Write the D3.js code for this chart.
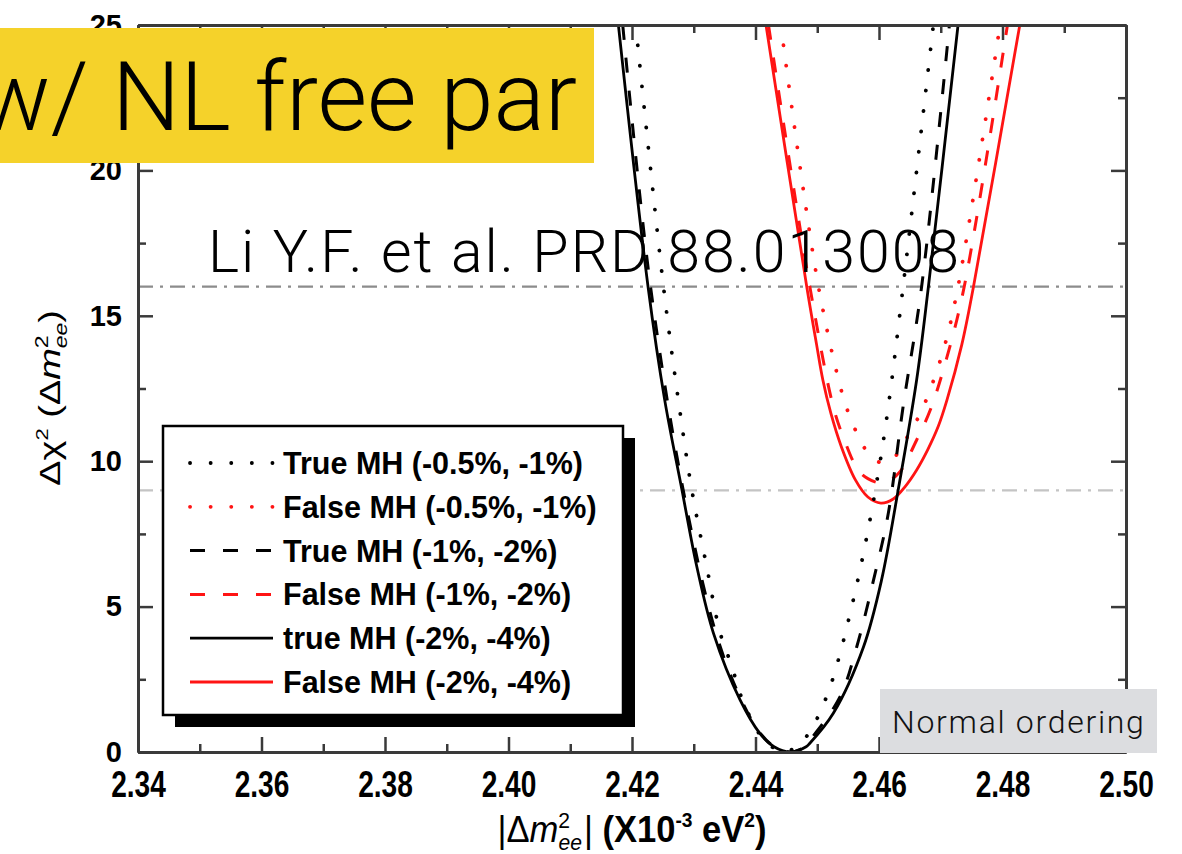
<!DOCTYPE html>
<html>
<head>
<meta charset="utf-8">
<script src="https://cdn.jsdelivr.net/npm/d3@7"></script>
<style>
  body { margin: 0; background: #fff; }
  svg { display: block; }
</style>
</head>
<body>
<svg id="chart" width="1182" height="854"></svg>
<script>
// ---- data -------------------------------------------------------------
const xMajorTicks = [2.34, 2.36, 2.38, 2.40, 2.42, 2.44, 2.46, 2.48, 2.50];
const xMinorTicks = [2.35, 2.37, 2.39, 2.41, 2.43, 2.45, 2.47, 2.49];
const yMajorTicks = [0, 5, 10, 15, 20, 25];
const yMinorTicks = [2.5, 7.5, 12.5, 17.5, 22.5];
const refLevels = [16, 9];

// [|Δm²ee| (1e-3 eV²), Δχ²]
const trueMH_05_1 = [
  [2.4206, 25], [2.4251, 16], [2.4278, 11.66], [2.4297, 9], [2.4321, 6.37],
  [2.4343, 4.08], [2.4361, 2.99], [2.4379, 1.79], [2.4412, 0.47], [2.4446, 0],
  [2.4480, 0.47], [2.4513, 1.79], [2.4534, 3.16], [2.4550, 4.48], [2.4572, 6.54],
  [2.4596, 9.24], [2.4615, 11.87], [2.4639, 16], [2.4688, 25]
];
const falseMH_05_1 = [
  [2.4441, 25], [2.4502, 16], [2.4542, 12.2], [2.4553, 11.53], [2.4567, 10.84],
  [2.4585, 10.2], [2.4603, 9.95], [2.4621, 10.04], [2.4639, 10.6], [2.4657, 11.24],
  [2.4673, 11.93], [2.4704, 13.8], [2.4728, 16], [2.4796, 25]
];
const trueMH_1_2 = [
  [2.4185, 25], [2.4230, 16], [2.4283, 9], [2.4336, 4.08], [2.4377, 1.79],
  [2.4408, 0.64], [2.4431, 0.18], [2.4456, 0], [2.4480, 0.18], [2.4493, 0.53],
  [2.4537, 1.9], [2.4564, 3.62], [2.4591, 5.9], [2.4615, 8.2], [2.4639, 11.87],
  [2.4669, 16], [2.4714, 25]
];
const falseMH_1_2 = [
  [2.4421, 25], [2.4488, 16], [2.4526, 11.87], [2.4542, 10.84], [2.4566, 9.7],
  [2.4582, 9.4], [2.4603, 9.25], [2.4618, 9.35], [2.4634, 9.64], [2.4661, 10.73],
  [2.4683, 11.76], [2.4709, 13.5], [2.4738, 16], [2.4808, 25]
];
const trueMH_2_4 = [
  [2.4178, 25], [2.4226, 16], [2.4253, 12.1], [2.4281, 9], [2.4305, 6.37],
  [2.4332, 4.08], [2.4375, 1.79], [2.4407, 0.64], [2.4430, 0.18], [2.4456, 0],
  [2.4482, 0.18], [2.4488, 0.3], [2.4526, 1.33], [2.4575, 3.62], [2.4604, 5.9],
  [2.4631, 9], [2.4661, 12.8], [2.4680, 16], [2.4728, 25]
];
const falseMH_2_4 = [
  [2.4417, 25], [2.4483, 16], [2.4499, 14], [2.4509, 12.8], [2.4522, 11.65],
  [2.4539, 10.5], [2.4562, 9.35], [2.4582, 8.77], [2.4603, 8.56], [2.4623, 8.7],
  [2.4642, 9.12], [2.4661, 9.7], [2.4679, 10.4], [2.4696, 11.2], [2.4710, 12.1],
  [2.4734, 14], [2.4753, 16], [2.4828, 25]
];

const legendLabels = [
  "True MH (-0.5%, -1%)",
  "False MH (-0.5%, -1%)",
  "True MH (-1%, -2%)",
  "False MH (-1%, -2%)",
  "true MH (-2%, -4%)",
  "False MH (-2%, -4%)"
];

// ---- styles -----------------------------------------------------------
const RED = "#ff1414";
const lineStyles = {
  dotted: { width: 3.8, dash: "0.1,20.5", cap: "round" },
  dashed: { width: 3, dash: "15,18", cap: "butt" },
  solid:  { width: 2.8, dash: null, cap: "butt" }
};
const series = [
  { data: trueMH_05_1, color: "#000", style: "dotted" },
  { data: falseMH_05_1, color: RED, style: "dotted" },
  { data: trueMH_1_2, color: "#000", style: "dashed" },
  { data: falseMH_1_2, color: RED, style: "dashed" },
  { data: trueMH_2_4, color: "#000", style: "solid" },
  { data: falseMH_2_4, color: RED, style: "solid" }
];

const SANS_BOLD = "'Liberation Sans', Arial, Helvetica, sans-serif";
const LIGHT = "'Helvetica Neue', Roboto, 'Open Sans', sans-serif";

// ---- scales -----------------------------------------------------------
const x = d3.scaleLinear().domain([2.34, 2.50]).range([138, 1126]);
const y = d3.scaleLinear().domain([0, 25]).range([752, 25]);
const [x0, x1] = x.range();
const [y0, y1] = y.range();

const svg = d3.select("#chart");

svg.append("defs").append("clipPath").attr("id", "plotClip")
  .append("rect")
  .attr("x", x0).attr("y", y1)
  .attr("width", x1 - x0).attr("height", y0 - y1);

// ---- reference levels (dash-dot) --------------------------------------
svg.append("g").selectAll("line").data(refLevels).join("line")
  .attr("x1", x0).attr("x2", x1)
  .attr("y1", d => y(d)).attr("y2", d => y(d))
  .attr("stroke", (d, i) => i === 0 ? "#8c8c8c" : "#c4c4c4")
  .attr("stroke-width", 2.2)
  .attr("stroke-dasharray", "15,7,3,7");

// ---- curves -----------------------------------------------------------
const line = d3.line()
  .x(d => x(d[0])).y(d => y(d[1]))
  .curve(d3.curveCatmullRom.alpha(0.5));

const curveG = svg.append("g").attr("clip-path", "url(#plotClip)");
const drawOrder = [1, 3, 5, 0, 2, 4];
drawOrder.forEach(i => {
  const s = series[i];
  const st = lineStyles[s.style];
  curveG.append("path")
    .datum(s.data)
    .attr("d", line)
    .attr("fill", "none")
    .attr("stroke", s.color)
    .attr("stroke-width", st.width)
    .attr("stroke-linecap", st.cap)
    .attr("stroke-linejoin", "round")
    .attr("stroke-dasharray", st.dash);
});

// ---- axes -------------------------------------------------------------
const AXIS_COLOR = "#3a3a3a";
function styleAxis(g) {
  g.select(".domain").attr("stroke", AXIS_COLOR).attr("stroke-width", 3);
  g.selectAll(".tick line").attr("stroke", AXIS_COLOR).attr("stroke-width", 2.5);
}

// bottom
const gxB = svg.append("g").attr("transform", `translate(0,${y0})`)
  .call(d3.axisBottom(x).tickValues(xMajorTicks).tickFormat(d3.format(".2f"))
    .tickSize(-15).tickSizeOuter(0).tickPadding(19));
styleAxis(gxB);
gxB.selectAll(".tick text")
  .attr("font-family", SANS_BOLD).attr("font-weight", "bold")
  .attr("font-size", 37).attr("fill", "#000")
  .attr("transform", "scale(0.76,1)");
svg.append("g").attr("transform", `translate(0,${y0})`)
  .call(d3.axisBottom(x).tickValues(xMinorTicks).tickFormat("").tickSize(-8).tickSizeOuter(0))
  .call(styleAxis);

// top (mirror)
svg.append("g").attr("transform", `translate(0,${y1})`)
  .call(d3.axisTop(x).tickValues(xMajorTicks).tickFormat("").tickSize(-15).tickSizeOuter(0))
  .call(styleAxis);
svg.append("g").attr("transform", `translate(0,${y1})`)
  .call(d3.axisTop(x).tickValues(xMinorTicks).tickFormat("").tickSize(-8).tickSizeOuter(0))
  .call(styleAxis);

// left
const gyL = svg.append("g").attr("transform", `translate(${x0},0)`)
  .call(d3.axisLeft(y).tickValues(yMajorTicks).tickFormat(d3.format("d"))
    .tickSize(-15).tickSizeOuter(0).tickPadding(16));
styleAxis(gyL);
gyL.selectAll(".tick text")
  .attr("font-family", SANS_BOLD).attr("font-weight", "bold")
  .attr("font-size", 29).attr("fill", "#000");
svg.append("g").attr("transform", `translate(${x0},0)`)
  .call(d3.axisLeft(y).tickValues(yMinorTicks).tickFormat("").tickSize(-8).tickSizeOuter(0))
  .call(styleAxis);

// right (mirror)
svg.append("g").attr("transform", `translate(${x1},0)`)
  .call(d3.axisRight(y).tickValues(yMajorTicks).tickFormat("").tickSize(-15).tickSizeOuter(0))
  .call(styleAxis);
svg.append("g").attr("transform", `translate(${x1},0)`)
  .call(d3.axisRight(y).tickValues(yMinorTicks).tickFormat("").tickSize(-8).tickSizeOuter(0))
  .call(styleAxis);

// ---- axis titles ------------------------------------------------------
const xTitle = svg.append("text")
  .attr("transform", `translate(${(x0 + x1) / 2},842) scale(0.96,1)`)
  .attr("text-anchor", "middle")
  .attr("font-family", SANS_BOLD).attr("font-size", 36).attr("fill", "#000");
xTitle.append("tspan").text("|Δ");
xTitle.append("tspan").attr("font-style", "italic").text("m");
xTitle.append("tspan").attr("font-size", 22).attr("dy", -14).text("2");
xTitle.append("tspan").attr("font-size", 22).attr("font-style", "italic").attr("dx", -12).attr("dy", 22).text("ee");
xTitle.append("tspan").attr("dx", 2).attr("dy", -8).text("| ");
xTitle.append("tspan").attr("font-weight", "bold").text("(X10");
xTitle.append("tspan").attr("font-weight", "bold").attr("font-size", 20).attr("dy", -15).text("-3");
xTitle.append("tspan").attr("font-weight", "bold").attr("dy", 15).text(" eV");
xTitle.append("tspan").attr("font-weight", "bold").attr("font-size", 20).attr("dy", -15).text("2");
xTitle.append("tspan").attr("font-weight", "bold").attr("dy", 15).text(")");

const yTitle = svg.append("text")
  .attr("transform", "translate(60,398) scale(0.78,1) rotate(-90)")
  .attr("text-anchor", "middle")
  .attr("font-family", SANS_BOLD).attr("font-size", 38).attr("fill", "#000");
yTitle.append("tspan").text("Δχ");
yTitle.append("tspan").attr("font-size", 22).attr("dy", -15).text("2");
yTitle.append("tspan").attr("dy", 15).text(" (Δ");
yTitle.append("tspan").attr("font-style", "italic").text("m");
yTitle.append("tspan").attr("font-size", 23).attr("dy", -15).text("2");
yTitle.append("tspan").attr("font-size", 23).attr("font-style", "italic").attr("dx", -13).attr("dy", 24).text("ee");
yTitle.append("tspan").attr("dy", -9).text(")");

// ---- legend -----------------------------------------------------------
const legend = svg.append("g");
const LX = 163, LY = 426, LW = 460, LH = 289;
legend.append("rect").attr("x", LX + 12).attr("y", LY + 12)
  .attr("width", LW).attr("height", LH).attr("fill", "#000");
legend.append("rect").attr("x", LX).attr("y", LY)
  .attr("width", LW).attr("height", LH)
  .attr("fill", "#fff").attr("stroke", "#000").attr("stroke-width", 2.5);

const rowY = i => 463 + i * 43.8;
series.forEach((s, i) => {
  const st = lineStyles[s.style];
  legend.append("line")
    .attr("x1", 190).attr("x2", 273)
    .attr("y1", rowY(i)).attr("y2", rowY(i))
    .attr("stroke", s.color)
    .attr("stroke-width", st.width)
    .attr("stroke-linecap", st.cap)
    .attr("stroke-dasharray", st.dash);
  legend.append("text")
    .attr("x", 283).attr("y", rowY(i)).attr("dy", "0.36em")
    .attr("font-family", SANS_BOLD).attr("font-weight", "bold")
    .attr("font-size", 30.5).attr("fill", "#000")
    .text(legendLabels[i]);
});

// ---- annotations ------------------------------------------------------
svg.append("text")
  .attr("x", 208).attr("y", 272)
  .attr("font-family", LIGHT).attr("font-weight", 300)
  .attr("font-size", 59).attr("letter-spacing", 2.0).attr("fill", "#000")
  .text("Li Y.F. et al. PRD 88.013008");

svg.append("rect").attr("x", 880).attr("y", 689)
  .attr("width", 277).attr("height", 64).attr("fill", "#dcdde0");
svg.append("text")
  .attr("x", 892).attr("y", 733)
  .attr("font-family", LIGHT).attr("font-weight", 300)
  .attr("font-size", 32).attr("letter-spacing", 1.7).attr("fill", "#111")
  .text("Normal ordering");

svg.append("rect").attr("x", 0).attr("y", 28)
  .attr("width", 594).attr("height", 135).attr("fill", "#f5d22a");
svg.append("text")
  .attr("x", -22).attr("y", 130)
  .attr("font-family", LIGHT).attr("font-weight", 300)
  .attr("font-size", 96).attr("fill", "#000")
  .text("w/ NL free par");
</script>
</body>
</html>
